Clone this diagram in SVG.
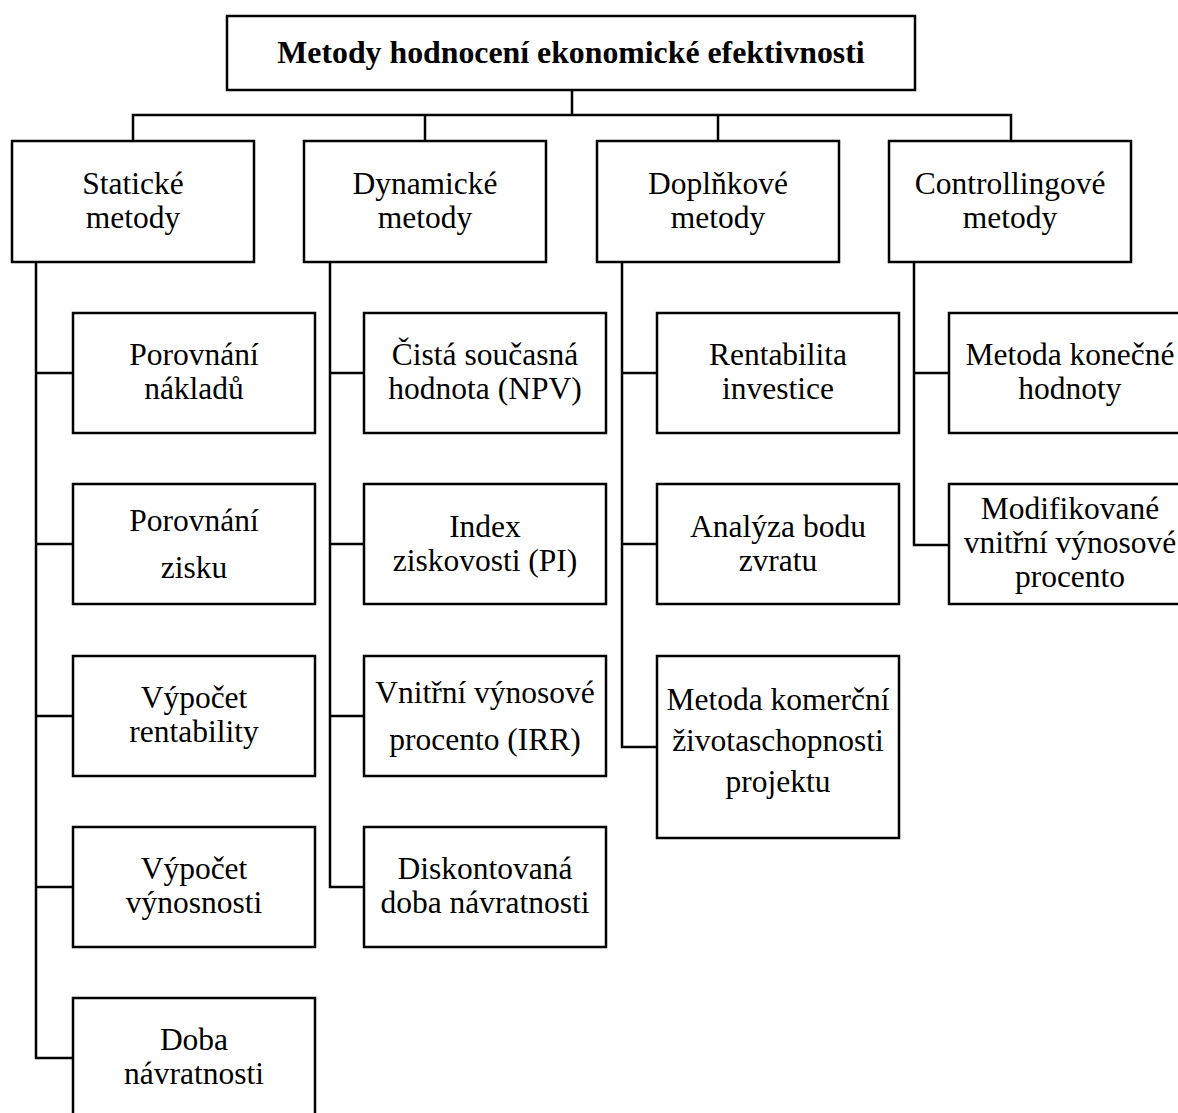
<svg xmlns="http://www.w3.org/2000/svg" width="1178" height="1113" viewBox="0 0 1178 1113">
<style>
.b{fill:#fff;stroke:#000;stroke-width:2.5}
.t{font-family:"Liberation Serif","Times New Roman",serif;font-size:31.5px;text-anchor:middle;fill:#000}
.h{font-weight:bold;font-size:31.8px}
.c{fill:none;stroke:#000;stroke-width:2.5;stroke-linejoin:miter;stroke-linecap:square}
</style>
<rect width="1178" height="1113" fill="#fff"/>
<g id="connectors">
<path class="c" d="M572 90V115M133 115H1011M133 115V141M425 115V141M718 115V141M1011 115V141"/>
<path class="c" d="M36 262V1058H73M36 373H73M36 544H73M36 716H73M36 887H73"/>
<path class="c" d="M330 262V887H364M330 373H364M330 544H364M330 716H364"/>
<path class="c" d="M622 262V747H657M622 373H657M622 544H657"/>
<path class="c" d="M914 262V545H949M914 373H949"/>
</g>
<g id="root"><rect class="b" x="227" y="16" width="688" height="74"/><text class="t h" x="571" y="63">Metody hodnocení ekonomické efektivnosti</text></g>
<g id="staticke"><rect class="b" x="12" y="141" width="242" height="121"/><text class="t" x="133" y="194">Statické</text><text class="t" x="133" y="228">metody</text></g>
<g id="dynamicke"><rect class="b" x="304" y="141" width="242" height="121"/><text class="t" x="425" y="194">Dynamické</text><text class="t" x="425" y="228">metody</text></g>
<g id="doplnkove"><rect class="b" x="597" y="141" width="242" height="121"/><text class="t" x="718" y="194">Doplňkové</text><text class="t" x="718" y="228">metody</text></g>
<g id="controllingove"><rect class="b" x="889" y="141" width="242" height="121"/><text class="t" x="1010" y="194">Controllingové</text><text class="t" x="1010" y="228">metody</text></g>

<g id="s1"><rect class="b" x="73" y="313" width="242" height="120"/><text class="t" x="194" y="365">Porovnání</text><text class="t" x="194" y="399">nákladů</text></g>
<g id="s2"><rect class="b" x="73" y="484" width="242" height="120"/><text class="t" x="194" y="531">Porovnání</text><text class="t" x="194" y="578">zisku</text></g>
<g id="s3"><rect class="b" x="73" y="656" width="242" height="120"/><text class="t" x="194" y="708">Výpočet</text><text class="t" x="194" y="742">rentability</text></g>
<g id="s4"><rect class="b" x="73" y="827" width="242" height="120"/><text class="t" x="194" y="879">Výpočet</text><text class="t" x="194" y="913">výnosnosti</text></g>
<g id="s5"><rect class="b" x="73" y="998" width="242" height="120"/><text class="t" x="194" y="1050">Doba</text><text class="t" x="194" y="1084">návratnosti</text></g>

<g id="d1"><rect class="b" x="364" y="313" width="242" height="120"/><text class="t" x="485" y="365">Čistá současná</text><text class="t" x="485" y="399">hodnota (NPV)</text></g>
<g id="d2"><rect class="b" x="364" y="484" width="242" height="120"/><text class="t" x="485" y="537">Index</text><text class="t" x="485" y="571">ziskovosti (PI)</text></g>
<g id="d3"><rect class="b" x="364" y="656" width="242" height="120"/><text class="t" x="485" y="703">Vnitřní výnosové</text><text class="t" x="485" y="750">procento (IRR)</text></g>
<g id="d4"><rect class="b" x="364" y="827" width="242" height="120"/><text class="t" x="485" y="879">Diskontovaná</text><text class="t" x="485" y="913">doba návratnosti</text></g>

<g id="p1"><rect class="b" x="657" y="313" width="242" height="120"/><text class="t" x="778" y="365">Rentabilita</text><text class="t" x="778" y="399">investice</text></g>
<g id="p2"><rect class="b" x="657" y="484" width="242" height="120"/><text class="t" x="778" y="537">Analýza bodu</text><text class="t" x="778" y="571">zvratu</text></g>
<g id="p3"><rect class="b" x="657" y="656" width="242" height="182"/><text class="t" x="778" y="710">Metoda komerční</text><text class="t" x="778" y="751">životaschopnosti</text><text class="t" x="778" y="792">projektu</text></g>

<g id="c1"><rect class="b" x="949" y="313" width="242" height="120"/><text class="t" x="1070" y="365">Metoda konečné</text><text class="t" x="1070" y="399">hodnoty</text></g>
<g id="c2"><rect class="b" x="949" y="484" width="242" height="120"/><text class="t" x="1070" y="519">Modifikované</text><text class="t" x="1070" y="553">vnitřní výnosové</text><text class="t" x="1070" y="587">procento</text></g>
</svg>
